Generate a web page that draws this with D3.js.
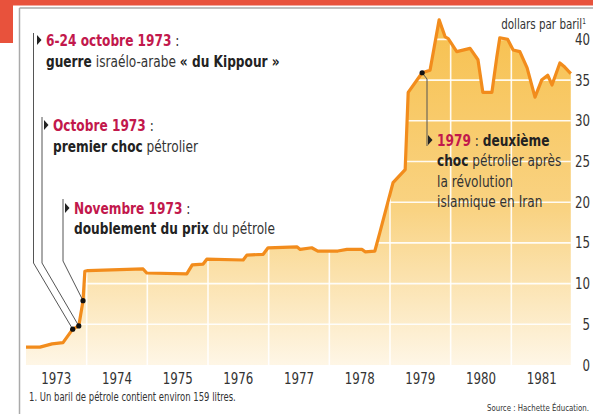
<!DOCTYPE html>
<html><head><meta charset="utf-8">
<script src="https://cdn.jsdelivr.net/npm/d3@7"></script>
<style>
html,body{margin:0;padding:0;background:#fff;}
svg{display:block;}
text{font-family:"Liberation Sans Narrow","DejaVu Sans Condensed","Roboto Condensed",sans-serif;}
</style></head>
<body>
<svg id="chart" width="593" height="414"></svg>
<script>
// ---- data ----
const priceDates = [1973.00,1973.23,1973.43,1973.61,1973.77,1973.87,1973.94,1973.97,1974.02,1974.93,1974.99,1975.65,1975.74,1975.92,1975.98,1976.58,1976.64,1976.91,1976.99,1977.47,1977.52,1977.71,1977.81,1978.14,1978.29,1978.54,1978.59,1978.75,1978.83,1979.05,1979.25,1979.30,1979.53,1979.66,1979.81,1979.91,1979.96,1980.10,1980.32,1980.45,1980.53,1980.68,1980.76,1980.81,1980.94,1981.03,1981.14,1981.26,1981.39,1981.50,1981.60,1981.67,1981.80,1981.88,1981.98];
const priceValues = [2.2,2.2,2.6,2.75,4.4,4.8,7.9,11.5,11.6,11.8,11.3,11.2,12.3,12.4,13.0,12.9,13.5,13.6,14.4,14.5,14.2,14.4,14.0,14.0,14.2,14.2,13.9,14.0,16.2,22.4,24.0,33.5,35.9,36.2,42.4,40.3,40.1,38.5,38.9,37.5,33.5,33.5,37.8,40.2,40.0,38.7,38.5,36.5,32.9,35.0,35.6,34.4,37.1,36.6,35.8];
const yearLabels = ["1973","1974","1975","1976","1977","1978","1979","1980","1981"];
const yTicks = [0,5,10,15,20,25,30,35,40];
const unitLabel = "dollars par baril";
const footnote = "1. Un baril de pétrole contient environ 159 litres.";
const sourceText = "Source : Hachette Éducation.";
const annotIdx = [4, 5, 6, 32];
const annot1 = [[["6-24 octobre 1973",'r'],[" :",'n']],[["guerre",'b'],[" israélo-arabe ",'n'],["« du Kippour »",'b']]];
const annot2 = [[["Octobre 1973",'r'],[" :",'n']],[["premier choc",'b'],[" pétrolier",'n']]];
const annot3 = [[["Novembre 1973",'r'],[" :",'n']],[["doublement du prix",'b'],[" du pétrole",'n']]];
const annot4 = [[["1979",'r'],[" : ",'n'],["deuxième",'b']],[["choc",'b'],[" pétrolier après",'n']],[["la révolution",'n']],[["islamique en Iran",'n']]];

// ---- layout ----
const svg = d3.select("#chart");
const SX = 0.82; // horizontal condensing of the text
const x0 = 26, x1 = 572, yBase = 365, yTop = 39.4;
const x = d3.scaleLinear().domain([1973, 1982]).range([x0, x1]);
const y = d3.scaleLinear().domain([0, 40]).range([yBase, yTop]);
const pts = priceDates.map((d,i)=>[d, priceValues[i]]);

function ctext(px, py, sx) {
  return svg.append("g").attr("transform",`translate(${px},${py}) scale(${sx},1)`).append("text").attr("x",0).attr("y",0);
}

// frame / header
svg.append("rect").attr("x",0).attr("y",0).attr("width",593).attr("height",5.5).attr("fill","#e8523c");
svg.append("rect").attr("x",0).attr("y",0).attr("width",13).attr("height",43).attr("fill","#e8523c");
svg.append("line").attr("x1",19.5).attr("x2",593).attr("y1",8).attr("y2",8).attr("stroke","#aaa").attr("stroke-width",1.5);
svg.append("line").attr("x1",19.5).attr("x2",19.5).attr("y1",8).attr("y2",414).attr("stroke","#aaa").attr("stroke-width",1.5);

// gradient
const defs = svg.append("defs");
const grad = defs.append("linearGradient").attr("id","fillGrad")
  .attr("gradientUnits","userSpaceOnUse").attr("x1",0).attr("x2",0).attr("y1",y(42)).attr("y2",yBase);
grad.append("stop").attr("offset","0%").attr("stop-color","#f7c150");
grad.append("stop").attr("offset","55%").attr("stop-color","#f9d383");
grad.append("stop").attr("offset","100%").attr("stop-color","#fef6e6");
const areaGen = d3.area().x(d=>x(d[0])).y0(yBase).y1(d=>y(d[1]));
defs.append("clipPath").attr("id","areaClip").append("path").attr("d", areaGen(pts));

svg.append("path").attr("d", areaGen(pts)).attr("fill","url(#fillGrad)");

// gridlines (clipped to area)
const g = svg.append("g").attr("clip-path","url(#areaClip)");
g.selectAll("line.h").data(yTicks.filter(t=>t>0)).join("line")
  .attr("x1",x0).attr("x2",x1).attr("y1",d=>y(d)).attr("y2",d=>y(d))
  .attr("stroke","#fff").attr("stroke-width",1.6).attr("opacity",0.9);
g.selectAll("line.v").data(d3.range(1974,1982)).join("line")
  .attr("x1",d=>x(d)).attr("x2",d=>x(d)).attr("y1",yTop-30).attr("y2",yBase)
  .attr("stroke","#fff").attr("stroke-width",1.6).attr("opacity",0.9);

// line
svg.append("path").attr("d", d3.line().x(d=>x(d[0])).y(d=>y(d[1]))(pts))
  .attr("fill","none").attr("stroke","#f28c1c").attr("stroke-width",3.2).attr("stroke-linejoin","round");

// y axis labels
yTicks.forEach(t=>{
  ctext(590, y(t)+5.5, SX).attr("text-anchor","end").attr("font-size",16).attr("fill","#333").text(t);
});
const ut = ctext(586, 29, SX).attr("text-anchor","end").attr("font-size",14).attr("fill","#333").text(unitLabel);
ut.append("tspan").attr("dy",-5).attr("font-size",8).text("1");

// x axis labels
yearLabels.forEach(d=>{
  ctext(x(+d+0.5), 384, SX).attr("text-anchor","middle").attr("font-size",16).attr("fill","#333").text(d);
});

ctext(29, 401, SX).attr("font-size",11.5).attr("fill","#333").text(footnote);
ctext(589, 411, SX).attr("text-anchor","end").attr("font-size",9.5).attr("fill","#333").text(sourceText);

// annotations
const colors = {r:"#c2184c", b:"#222", n:"#333"};
function drawAnnot(lines, tx, ty, lh) {
  const t = ctext(tx, ty, SX).attr("font-size",16.5).attr("fill","#333");
  lines.forEach((runs,li)=>{
    runs.forEach((r,ri)=>{
      const sp = t.append("tspan").text(r[0]).attr("fill",colors[r[1]])
        .attr("font-weight", r[1]==='n' ? "normal" : "bold");
      if (ri===0) sp.attr("x",0).attr("dy", li===0 ? 0 : lh);
    });
  });
  svg.append("path").attr("d",`M${tx-9},${ty-11} L${tx-4.5},${ty-6} L${tx-9},${ty-1} Z`).attr("fill","#222");
}
function leader(pts2, idx) {
  const p = [x(priceDates[idx]), y(priceValues[idx])];
  svg.append("path").attr("d", d3.line()([...pts2, p])).attr("fill","none").attr("stroke","#555").attr("stroke-width",1);
  svg.append("circle").attr("cx",p[0]).attr("cy",p[1]).attr("r",2.6).attr("fill","#111");
}
leader([[33.5,33],[33.5,263]], annotIdx[0]);
leader([[42,117],[42,263]], annotIdx[1]);
leader([[63,199],[63,261]], annotIdx[2]);
leader([[427,146],[427,79]], annotIdx[3]);

drawAnnot(annot1, 46, 46, 21);
drawAnnot(annot2, 53, 131, 21);
drawAnnot(annot3, 74, 214, 20);
drawAnnot(annot4, 437, 146, 20.5);
</script>
</body></html>
